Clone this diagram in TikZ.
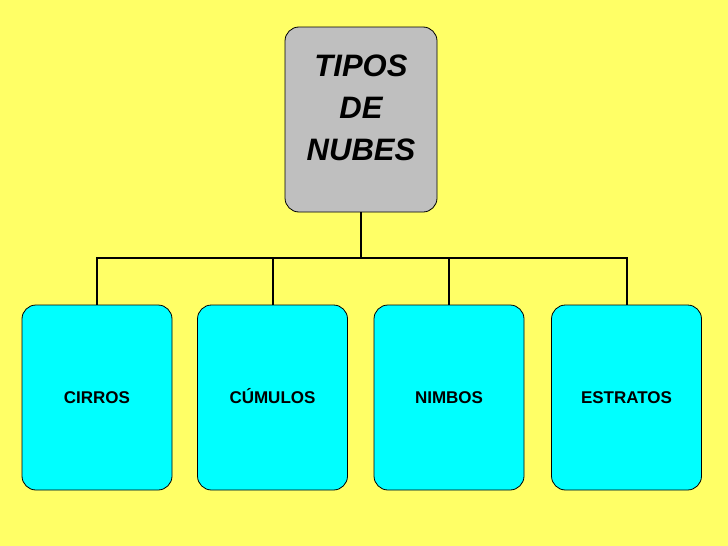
\documentclass[tikz,border=0pt]{standalone}
\usepackage{fontspec}
\setmainfont{Liberation Sans}
\definecolor{bg}{RGB}{255,255,102}
\definecolor{cy}{RGB}{0,255,255}
\definecolor{gr}{RGB}{191,191,191}
\begin{document}
\begin{tikzpicture}[x=1pt,y=-1pt,
 box/.style={draw=black,line width=0.8pt,rounded corners=14pt,minimum width=150pt,minimum height=185pt,fill=cy,inner sep=0pt},
 lbl/.style={font=\bfseries\fontsize{17}{20}\selectfont,text height=12pt,text depth=0pt},
 lk/.style={line width=2pt}]
\fill[bg] (0,0) rectangle (728,546);
\useasboundingbox (0,0) rectangle (728,546);
\node[box,fill=gr,minimum width=152pt] (top) at (361,119.5) {};
\node[align=center,font=\bfseries\itshape\fontsize{31}{42}\selectfont] (title) at (361,108) {TIPOS\\DE\\NUBES};
\node[box,lbl] (a) at (97,397.5) {CIRROS};
\node[box,lbl] (b) at (272.5,397.5) {CÚMULOS};
\node[box,lbl] (c) at (449,397.5) {NIMBOS};
\node[box,lbl] (d) at (626.5,397.5) {ESTRATOS};
\coordinate (j) at (361,258);
\draw[lk] (top.south) -- (j);
\draw[lk] (a.north) -- (a.north|-j) -- (d.north|-j) -- (d.north);
\draw[lk] (b.north) -- (b.north|-j);
\draw[lk] (c.north) -- (c.north|-j);
\end{tikzpicture}
\end{document}
